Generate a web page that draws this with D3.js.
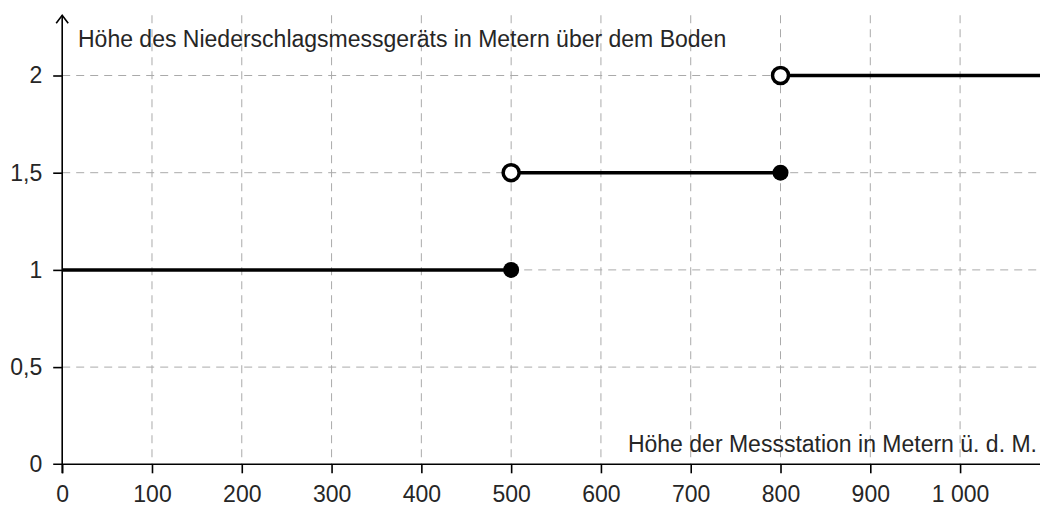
<!DOCTYPE html>
<html>
<head>
<meta charset="utf-8">
<script src="https://cdn.jsdelivr.net/npm/d3@7"></script>
<style>
  body { margin: 0; background: #fff; }
  text { font-family: "Liberation Sans", Arial, sans-serif; fill: #262626; }
</style>
</head>
<body>
<script>
// data
var xTicks = [0, 100, 200, 300, 400, 500, 600, 700, 800, 900, 1000];
var xTickLabels = ["0", "100", "200", "300", "400", "500", "600", "700", "800", "900", "1 000"];
var yTicks = [0, 0.5, 1, 1.5, 2];
var yTickLabels = ["0", "0,5", "1", "1,5", "2"];
var stepStart = [0, 500, 800];
var stepEnd = [500, 800, 1089];
var stepValue = [1, 1.5, 2];
var openAtStart = [false, true, true];
var closedAtEnd = [true, true, false];

var width = 1040, height = 506;
var fs = 23;

var x = d3.scaleLinear().domain([0, 1089]).range([62.2, 1040]);
var y = d3.scaleLinear().domain([0, 2]).range([464.3, 75.5]);
var yTop = 2.31;

var svg = d3.select("body").append("svg")
    .attr("width", width).attr("height", height);

// grid
svg.selectAll("line.vgrid")
    .data(xTicks.slice(1))
    .enter().append("line")
    .attr("class", "vgrid")
    .attr("x1", function(d){ return x(d); })
    .attr("x2", function(d){ return x(d); })
    .attr("y1", y(yTop))
    .attr("y2", y(0))
    .attr("stroke", "#aaa")
    .attr("stroke-width", 1)
    .attr("stroke-dasharray", "8,6");

svg.selectAll("line.hgrid")
    .data(yTicks.slice(1))
    .enter().append("line")
    .attr("class", "hgrid")
    .attr("x1", x(0))
    .attr("x2", width)
    .attr("y1", function(d){ return y(d); })
    .attr("y2", function(d){ return y(d); })
    .attr("stroke", "#aaa")
    .attr("stroke-width", 1)
    .attr("stroke-dasharray", "8,6");

// axes
var xAxis = d3.axisBottom(x).tickValues(xTicks)
    .tickFormat(function(d, i){ return xTickLabels[i]; })
    .tickSize(9).tickSizeOuter(0).tickPadding(12);
var gx = svg.append("g")
    .attr("transform", "translate(0," + y(0) + ")")
    .call(xAxis);
gx.select(".domain").remove();
gx.append("line").attr("x1", x(0) - 9).attr("x2", width)
    .attr("stroke", "#000").attr("stroke-width", 1.6);
gx.selectAll(".tick line").attr("stroke", "#000").attr("stroke-width", 1.6);
gx.selectAll(".tick text").attr("font-size", fs).attr("fill", "#262626")
    .style("font-family", "Liberation Sans, Arial, sans-serif");

var yAxis = d3.axisLeft(y).tickValues(yTicks)
    .tickFormat(function(d, i){ return yTickLabels[i]; })
    .tickSize(9).tickSizeOuter(0).tickPadding(11);
var gy = svg.append("g")
    .attr("transform", "translate(" + x(0) + ",0)")
    .call(yAxis);
gy.select(".domain").remove();
gy.append("line").attr("x1", 0).attr("x2", 0)
    .attr("y1", y(0) + 9).attr("y2", y(yTop))
    .attr("stroke", "#000").attr("stroke-width", 1.6);
gy.append("path")
    .attr("d", "M-6," + (y(yTop) + 8) + "L0," + y(yTop) + "L6," + (y(yTop) + 8))
    .attr("fill", "none").attr("stroke", "#000").attr("stroke-width", 1.6);
gy.selectAll(".tick line").attr("stroke", "#000").attr("stroke-width", 1.6);
gy.selectAll(".tick text").attr("font-size", fs).attr("fill", "#262626")
    .style("font-family", "Liberation Sans, Arial, sans-serif");
gy.selectAll(".tick").filter(function(d){ return d === 0; }).select("line").remove();

// axis titles
svg.append("text")
    .attr("x", 78).attr("y", 47)
    .attr("font-size", fs)
    .text("Höhe des Niederschlagsmessgeräts in Metern über dem Boden");
svg.append("text")
    .attr("x", 1037).attr("y", 452)
    .attr("font-size", fs)
    .attr("text-anchor", "end")
    .text("Höhe der Messstation in Metern ü. d. M.");

// step segments
svg.selectAll("line.step")
    .data(stepValue)
    .enter().append("line")
    .attr("class", "step")
    .attr("x1", function(d, i){ return x(stepStart[i]); })
    .attr("x2", function(d, i){ return x(stepEnd[i]); })
    .attr("y1", function(d){ return y(d); })
    .attr("y2", function(d){ return y(d); })
    .attr("stroke", "#000")
    .attr("stroke-width", 3.5);

svg.selectAll("circle.closed")
    .data(stepValue.filter(function(d, i){ return closedAtEnd[i]; }))
    .enter().append("circle")
    .attr("class", "closed")
    .attr("cx", function(d){ return x(stepEnd[stepValue.indexOf(d)]); })
    .attr("cy", function(d){ return y(d); })
    .attr("r", 8)
    .attr("fill", "#000");

svg.selectAll("circle.open")
    .data(stepValue.filter(function(d, i){ return openAtStart[i]; }))
    .enter().append("circle")
    .attr("class", "open")
    .attr("cx", function(d){ return x(stepStart[stepValue.indexOf(d)]); })
    .attr("cy", function(d){ return y(d); })
    .attr("r", 8)
    .attr("fill", "#fff")
    .attr("stroke", "#000")
    .attr("stroke-width", 3.5);
</script>
</body>
</html>
